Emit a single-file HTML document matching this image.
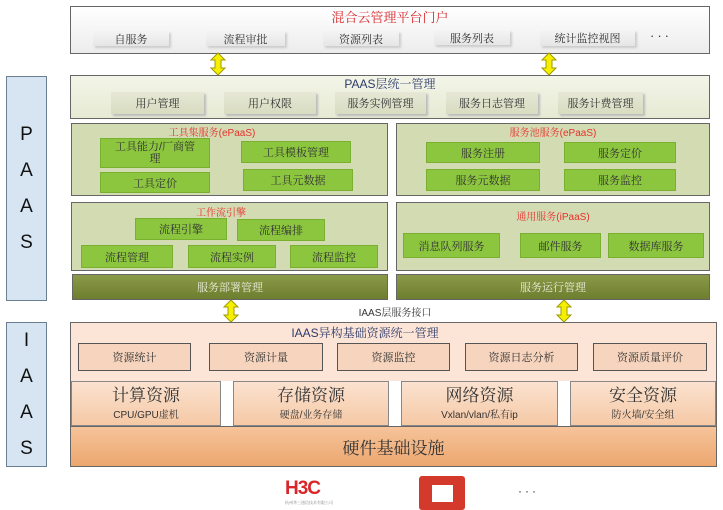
<!DOCTYPE html>
<html><head><meta charset="utf-8"><style>
body{margin:0;width:723px;height:510px;background:#fff;position:relative;overflow:hidden;font-family:"Liberation Sans","Noto Serif CJK SC",serif;}
div{position:absolute;box-sizing:border-box;}
.c{display:flex;align-items:center;justify-content:center;text-align:center;}
.g{background:#8cc63f;border:1px solid #7ab030;font-size:11px;color:#333;}
.box{border:1.5px solid #666;}
.w{background:linear-gradient(#f4f4f4,#e6e6e6);font-size:11px;color:#333;box-shadow:2px 2px 2px #ccc;}
.p{background:linear-gradient(#e6e8d6,#d8dcc0);font-size:11px;color:#333;box-shadow:2px 2px 2px #bbb;}
.ia{background:#f6d4bd;border:1px solid #555;font-size:11px;color:#333;}
.res{background:linear-gradient(#fbe2cf,#f5c9a6);border:1px solid #888;color:#333;flex-direction:column;}
.res b{font-weight:normal;font-size:17px;line-height:20px;}
.res span{font-size:10px;}
.t{font-size:10px;color:#e8302a;}
.side{background:#d6e5f1;border:1px solid #6a7f92;font-size:19px;color:#111;flex-direction:column;line-height:36px;font-family:"Liberation Sans",sans-serif;}
</style></head><body>
<div class="box" style="left:70px;top:6px;width:640px;height:48px;background:linear-gradient(#fff,#ececec);"></div>
<div class="c" style="left:70px;top:8px;width:640px;height:16px;font-size:13px;color:#d9262b;">混合云管理平台门户</div>
<div class="c w" style="left:93px;top:31px;width:76px;height:15px;">自服务</div>
<div class="c w" style="left:206px;top:31px;width:79px;height:15px;">流程审批</div>
<div class="c w" style="left:323px;top:31px;width:76px;height:15px;">资源列表</div>
<div class="c w" style="left:434px;top:30px;width:76px;height:15px;">服务列表</div>
<div class="c w" style="left:540px;top:30px;width:95px;height:16px;">统计监控视图</div>
<div style="left:650px;top:28px;font-size:13px;color:#333;letter-spacing:3px;">···</div>
<div class="c side" style="left:6px;top:76px;width:41px;height:225px;"><span>P</span><span>A</span><span>A</span><span>S</span></div>
<div class="c side" style="left:6px;top:322px;width:41px;height:145px;"><span>I</span><span>A</span><span>A</span><span>S</span></div>
<svg style="position:absolute;left:0;top:0" width="723" height="510">
<defs><path id="ar" d="M0,-11 L7,-4 L3,-4 L3,4 L7,4 L0,11 L-7,4 L-3,4 L-3,-4 L-7,-4 Z" fill="#f5f000" stroke="#a09a00" stroke-width="1"/></defs>
<use href="#ar" x="218" y="64"/><use href="#ar" x="549" y="64"/>
<use href="#ar" x="231" y="311"/><use href="#ar" x="564" y="311"/>
</svg>
<div class="box" style="left:70px;top:75px;width:640px;height:44px;background:linear-gradient(#f3f5e8,#e6ead3);"></div>
<div class="c" style="left:70px;top:76px;width:640px;height:14px;font-size:12px;color:#2d3a6a;">PAAS层统一管理</div>
<div class="c p" style="left:111px;top:92px;width:93px;height:22px;">用户管理</div>
<div class="c p" style="left:224px;top:92px;width:92px;height:22px;">用户权限</div>
<div class="c p" style="left:335px;top:92px;width:91px;height:22px;">服务实例管理</div>
<div class="c p" style="left:446px;top:92px;width:92px;height:22px;">服务日志管理</div>
<div class="c p" style="left:558px;top:92px;width:85px;height:22px;">服务计费管理</div>
<div class="box" style="left:71px;top:123px;width:317px;height:73px;background:#d3dbb3;"></div>
<div class="c t" style="left:71px;top:125px;width:282px;height:12px;">工具集服务(ePaaS)</div>
<div class="c g" style="left:100px;top:138px;width:110px;height:30px;line-height:12px;">工具能力/厂商管<br>理</div>
<div class="c g" style="left:241px;top:141px;width:110px;height:22px;">工具模板管理</div>
<div class="c g" style="left:100px;top:172px;width:110px;height:21px;">工具定价</div>
<div class="c g" style="left:243px;top:169px;width:110px;height:22px;">工具元数据</div>
<div class="box" style="left:396px;top:123px;width:314px;height:73px;background:#d3dbb3;"></div>
<div class="c t" style="left:396px;top:125px;width:314px;height:12px;">服务池服务(ePaaS)</div>
<div class="c g" style="left:426px;top:142px;width:114px;height:21px;">服务注册</div>
<div class="c g" style="left:564px;top:142px;width:112px;height:21px;">服务定价</div>
<div class="c g" style="left:426px;top:169px;width:114px;height:22px;">服务元数据</div>
<div class="c g" style="left:564px;top:169px;width:112px;height:22px;">服务监控</div>
<div class="box" style="left:71px;top:202px;width:317px;height:69px;background:#d3dbb3;"></div>
<div class="c t" style="left:71px;top:205px;width:300px;height:12px;">工作流引擎</div>
<div class="c g" style="left:135px;top:218px;width:92px;height:22px;">流程引擎</div>
<div class="c g" style="left:237px;top:219px;width:88px;height:22px;">流程编排</div>
<div class="c g" style="left:81px;top:245px;width:92px;height:23px;">流程管理</div>
<div class="c g" style="left:188px;top:245px;width:88px;height:23px;">流程实例</div>
<div class="c g" style="left:290px;top:245px;width:88px;height:23px;">流程监控</div>
<div class="box" style="left:396px;top:202px;width:314px;height:69px;background:#d3dbb3;"></div>
<div class="c t" style="left:396px;top:209px;width:314px;height:12px;">通用服务(iPaaS)</div>
<div class="c g" style="left:403px;top:233px;width:97px;height:25px;">消息队列服务</div>
<div class="c g" style="left:520px;top:233px;width:81px;height:25px;">邮件服务</div>
<div class="c g" style="left:608px;top:233px;width:96px;height:25px;">数据库服务</div>
<div class="c box" style="left:72px;top:274px;width:316px;height:26px;background:linear-gradient(#8a9a48,#6e7e30);color:#e8ecd8;font-size:11px;">服务部署管理</div>
<div class="c box" style="left:396px;top:274px;width:314px;height:26px;background:linear-gradient(#8a9a48,#6e7e30);color:#e8ecd8;font-size:11px;">服务运行管理</div>
<div class="c" style="left:340px;top:305px;width:110px;height:12px;font-size:10px;color:#333;">IAAS层服务接口</div>
<div class="box" style="left:70px;top:322px;width:647px;height:145px;background:#fce5d6;"></div>
<div class="c" style="left:70px;top:324px;width:590px;height:16px;font-size:12px;color:#2d3a6a;">IAAS异构基础资源统一管理</div>
<div class="c ia" style="left:78px;top:343px;width:113px;height:28px;">资源统计</div>
<div class="c ia" style="left:209px;top:343px;width:114px;height:28px;">资源计量</div>
<div class="c ia" style="left:337px;top:343px;width:113px;height:28px;">资源监控</div>
<div class="c ia" style="left:465px;top:343px;width:113px;height:28px;">资源日志分析</div>
<div class="c ia" style="left:593px;top:343px;width:114px;height:28px;">资源质量评价</div>
<div style="left:71px;top:381px;width:645px;height:45px;background:#fff;"></div>
<div class="c res" style="left:71px;top:381px;width:150px;height:45px;"><b>计算资源</b><span>CPU/GPU虚机</span></div>
<div class="c res" style="left:233px;top:381px;width:156px;height:45px;"><b>存储资源</b><span>硬盘/业务存储</span></div>
<div class="c res" style="left:401px;top:381px;width:157px;height:45px;"><b>网络资源</b><span>Vxlan/vlan/私有ip</span></div>
<div class="c res" style="left:570px;top:381px;width:146px;height:45px;"><b>安全资源</b><span>防火墙/安全组</span></div>
<div class="c" style="left:70px;top:426px;width:647px;height:41px;background:linear-gradient(#f6c39a,#eca76f);border:1.5px solid #666;font-size:17px;color:#333;">硬件基础设施</div>
<div style="left:285px;top:479px;font-size:19px;font-weight:bold;color:#d9262b;letter-spacing:-1px;line-height:20px;font-family:'Liberation Sans',sans-serif;">H3C</div>
<div style="left:285px;top:500px;font-size:4px;color:#888;width:70px;">杭州华三通信技术有限公司</div>
<div style="left:419px;top:476px;width:46px;height:34px;background:#d33a2c;border-radius:3px;"></div>
<div style="left:432px;top:485px;width:21px;height:17px;background:#fff;"></div>
<div style="left:518px;top:484px;font-size:12px;color:#333;letter-spacing:3px;">···</div>
</body></html>
